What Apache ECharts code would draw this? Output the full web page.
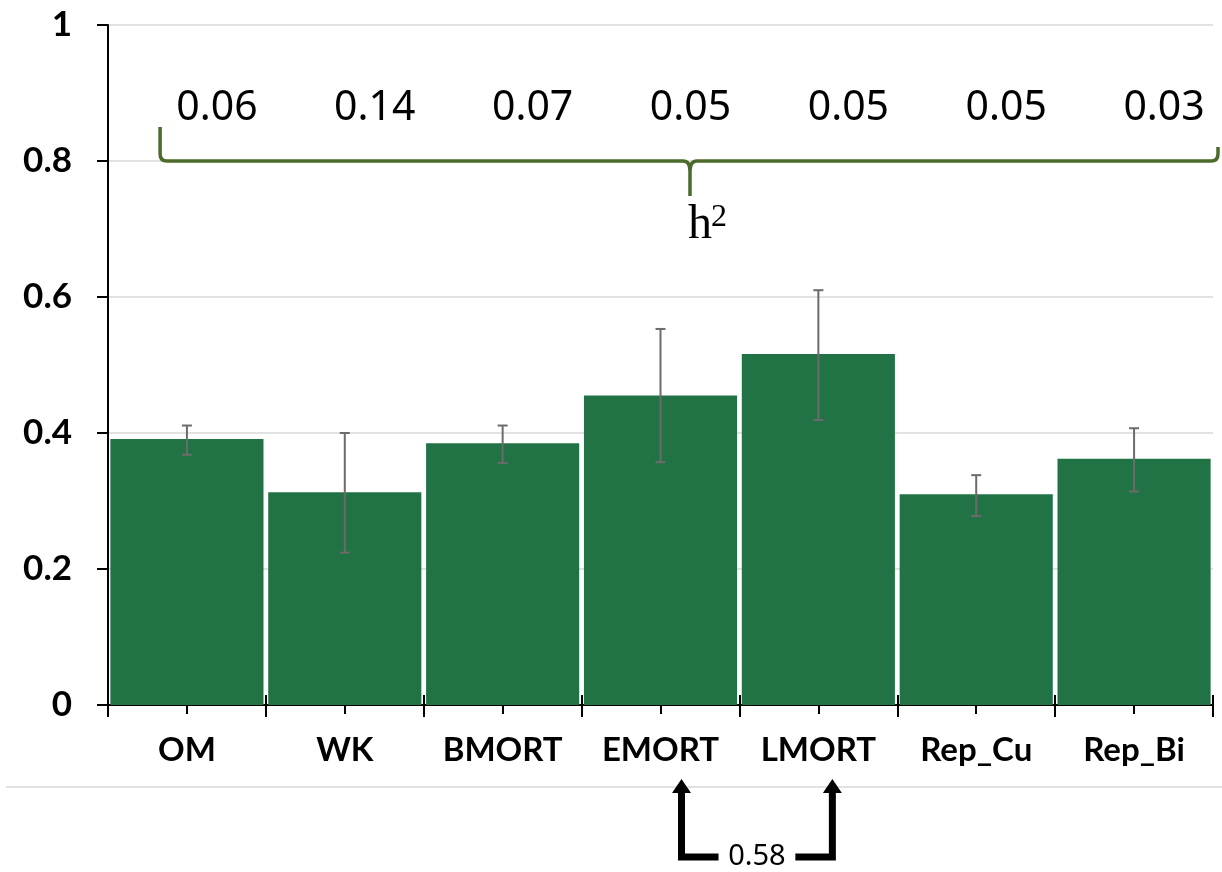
<!DOCTYPE html>
<html>
<head>
<meta charset="utf-8">
<script src="https://cdn.jsdelivr.net/npm/echarts@6/dist/echarts.min.js"></script>
<style>
html,body{margin:0;padding:0;background:#fff;}
#chart{width:1222px;height:872px;}
</style>
</head>
<body>
<div id="chart"></div>
<script>
const categories = ['OM','WK','BMORT','EMORT','LMORT','Rep_Cu','Rep_Bi'];
const means = [0.391, 0.313, 0.385, 0.455, 0.516, 0.310, 0.362];
const errLow = [0.368, 0.224, 0.356, 0.357, 0.419, 0.278, 0.314];
const errHigh = [0.411, 0.400, 0.411, 0.553, 0.610, 0.338, 0.407];
const h2Values = ['0.06','0.14','0.07','0.05','0.05','0.05','0.03'];
const h2Level = 0.878;
const braceLevel = 0.8;
const corrLabel = '0.58';

const chart = echarts.init(document.getElementById('chart'));
const BAR = '#217346';
const GRID = {left:108, right:9, top:25, bottom:167};

function catAxis(extra){
  return Object.assign({
    type:'category', data:categories, position:'bottom', boundaryGap:true,
    axisLine:{show:false}, axisLabel:{show:false}, splitLine:{show:false}
  }, extra);
}

const option = {
  animation:false,
  backgroundColor:'#fff',
  grid:GRID,
  xAxis:[
    catAxis({
      axisLine:{show:true, lineStyle:{color:'#000', width:2}},
      axisTick:{show:true, inside:false, length:12, lineStyle:{color:'#000', width:2}},
      axisLabel:{show:true, interval:0, hideOverlap:false, color:'#000', fontFamily:'Lato',
        fontWeight:'bold', fontSize:33, margin:29}
    }),
    catAxis({axisTick:{show:true, inside:true, length:10, lineStyle:{color:'#000', width:2}}}),
    catAxis({axisTick:{show:true, alignWithLabel:true, inside:false, length:9, lineStyle:{color:'#000', width:2}}}),
    catAxis({axisTick:{show:true, alignWithLabel:true, inside:true, length:8, lineStyle:{color:'#000', width:2}}})
  ],
  yAxis:{
    type:'value', min:0, max:1, interval:0.2,
    axisLine:{show:true, lineStyle:{color:'#000', width:2}},
    axisTick:{show:true, length:11, lineStyle:{color:'#000', width:2}},
    axisLabel:{color:'#000', fontFamily:'Lato', fontWeight:'bold', fontSize:35, margin:36,
      formatter:function(v){return String(parseFloat(v.toFixed(1)));}},
    splitLine:{show:true, lineStyle:{color:'#d9d9d9', width:1.5}}
  },
  series:[
    {
      type:'bar', data:means, barCategoryGap:'3%',
      itemStyle:{color:BAR}, z:2
    },
    {
      type:'custom', z:3,
      data:categories.map((c,i)=>[i, errLow[i], errHigh[i]]),
      renderItem:function(params, api){
        const lo = api.coord([api.value(0), api.value(1)]);
        const hi = api.coord([api.value(0), api.value(2)]);
        const w = 5;
        const st = {stroke:'#6b6b6b', lineWidth:2};
        return {type:'group', children:[
          {type:'line', shape:{x1:lo[0], y1:lo[1], x2:hi[0], y2:hi[1]}, style:st},
          {type:'line', shape:{x1:lo[0]-w, y1:lo[1], x2:lo[0]+w, y2:lo[1]}, style:st},
          {type:'line', shape:{x1:hi[0]-w, y1:hi[1], x2:hi[0]+w, y2:hi[1]}, style:st}
        ]};
      }
    },
    {
      type:'scatter', symbolSize:0, z:4,
      data:categories.map((c,i)=>[i, h2Level]),
      label:{show:true, position:'inside', offset:[30,0], color:'#000', opacity:1,
        fontFamily:'Noto Sans', fontWeight:'normal', fontSize:41,
        formatter:function(p){return h2Values[p.dataIndex];}},
      silent:true
    },
    {
      type:'custom', z:10, silent:true,
      data:[[0, braceLevel]],
      renderItem:function(params, api){
        const p0 = api.coord([0, api.value(1)]);
        const p1 = api.coord([1, api.value(1)]);
        const step = p1[0]-p0[0];
        const yb = p0[1];
        const xLeft = p0[0] - 0.17*step;
        const xRight = 1218;
        const xMid = 690;
        const r = 7;
        const d = 'M'+xLeft+' '+(yb-34)+' L'+xLeft+' '+(yb-r)+' Q'+xLeft+' '+yb+' '+(xLeft+r)+' '+yb+
          ' L'+(xMid-r)+' '+yb+' Q'+xMid+' '+yb+' '+xMid+' '+(yb+r+3)+' L'+xMid+' '+(yb+35)+
          ' M'+xMid+' '+(yb+r+3)+' Q'+xMid+' '+yb+' '+(xMid+r)+' '+yb+
          ' L'+(xRight-r)+' '+yb+' Q'+xRight+' '+yb+' '+xRight+' '+(yb-r)+' L'+xRight+' '+(yb-14);
        return {type:'path', shape:{pathData:d}, style:{fill:null, stroke:'#4b6a2b', lineWidth:3.5}};
      }
    }
  ]
};
chart.setOption(option);

const xE = chart.convertToPixel({xAxisIndex:0}, 3);
const xL = chart.convertToPixel({xAxisIndex:0}, 4);
const ax1 = xE + 21, ax2 = xL + 14;
const yArrTop = 779, yArrBot = 857;
chart.setOption({
  graphic:[
    {type:'text', style:{text:'h', x:700, y:225, align:'center', verticalAlign:'middle',
      font:'48px "Liberation Serif"', fill:'#000'}, z:10},
    {type:'text', style:{text:'2', x:711, y:218, align:'left', verticalAlign:'middle',
      font:'32px "Liberation Serif"', fill:'#000'}, z:10},
    {type:'line', shape:{x1:6, y1:787, x2:1222, y2:787}, style:{stroke:'#d9d9d9', lineWidth:1.5}, z:1},
    {type:'polyline', shape:{points:[[ax1+37,yArrBot],[ax1,yArrBot],[ax1,yArrTop+12]]},
      style:{stroke:'#000', lineWidth:7, fill:null, lineJoin:'miter'}, z:10},
    {type:'polygon', shape:{points:[[ax1-9.5,yArrTop+14],[ax1+9.5,yArrTop+14],[ax1,yArrTop]]},
      style:{fill:'#000'}, z:10},
    {type:'polyline', shape:{points:[[ax2-37,yArrBot],[ax2,yArrBot],[ax2,yArrTop+12]]},
      style:{stroke:'#000', lineWidth:7, fill:null, lineJoin:'miter'}, z:10},
    {type:'polygon', shape:{points:[[ax2-9.5,yArrTop+14],[ax2+9.5,yArrTop+14],[ax2,yArrTop]]},
      style:{fill:'#000'}, z:10},
    {type:'text', style:{text:corrLabel, x:(ax1+ax2)/2, y:yArrBot, align:'center', verticalAlign:'middle',
      font:'29px "Noto Sans"', fill:'#000'}, z:10}
  ]
});
</script>
</body>
</html>
